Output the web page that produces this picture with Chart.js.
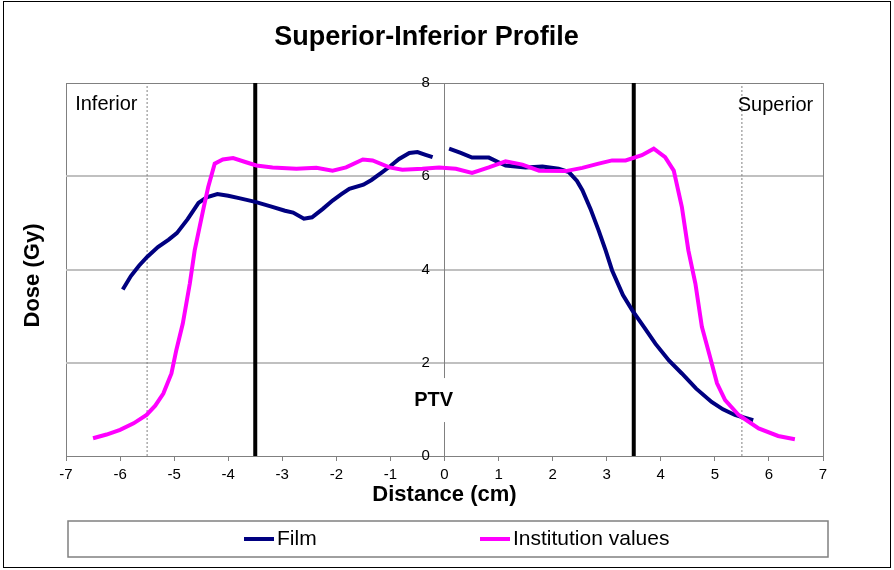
<!DOCTYPE html>
<html>
<head>
<meta charset="utf-8">
<title>Superior-Inferior Profile</title>
<script src="https://cdn.jsdelivr.net/npm/chart.js@4/dist/chart.umd.min.js"></script>
<style>
  html, body { margin: 0; padding: 0; background: #fff; }
  #wrap { width: 894px; height: 570px; }
</style>
</head>
<body>
<div id="wrap"><canvas id="profileChart" width="894" height="570"></canvas></div>
<script>
// Film measurement (two pieces, broken around x = 0)
const filmLeftX = [-5.95, -5.8, -5.65, -5.5, -5.3, -5.1, -4.95, -4.75, -4.55, -4.4, -4.2, -4.0, -3.8, -3.5, -3.2, -2.95, -2.8, -2.6, -2.45, -2.25, -2.07, -1.9, -1.76, -1.5, -1.35, -1.15, -1.0, -0.84, -0.65, -0.5, -0.35, -0.22];
const filmLeftY = [3.57, 3.86, 4.08, 4.27, 4.48, 4.64, 4.78, 5.08, 5.43, 5.55, 5.62, 5.58, 5.53, 5.45, 5.35, 5.26, 5.22, 5.09, 5.12, 5.30, 5.48, 5.62, 5.73, 5.82, 5.92, 6.09, 6.22, 6.37, 6.50, 6.52, 6.46, 6.41];
const filmRightX = [0.085, 0.3, 0.51, 0.82, 1.0, 1.13, 1.5, 1.81, 2.11, 2.3, 2.45, 2.55, 2.7, 2.85, 2.98, 3.1, 3.3, 3.47, 3.7, 3.9, 4.15, 4.39, 4.65, 4.94, 5.15, 5.37, 5.55, 5.71];
const filmRightY = [6.59, 6.50, 6.40, 6.40, 6.30, 6.23, 6.19, 6.21, 6.16, 6.09, 5.90, 5.70, 5.30, 4.84, 4.41, 3.98, 3.45, 3.13, 2.75, 2.41, 2.05, 1.77, 1.45, 1.16, 1.00, 0.88, 0.82, 0.77];

// Institution values
const instX = [-6.5, -6.25, -6.0, -5.75, -5.51, -5.35, -5.2, -5.05, -4.96, -4.84, -4.71, -4.62, -4.53, -4.45, -4.37, -4.25, -4.1, -3.91, -3.67, -3.48, -3.18, -2.74, -2.37, -2.07, -1.82, -1.51, -1.33, -1.02, -0.78, -0.41, -0.1, 0.21, 0.51, 0.82, 1.13, 1.44, 1.75, 2.24, 2.55, 2.85, 3.1, 3.35, 3.65, 3.87, 4.08, 4.24, 4.39, 4.51, 4.64, 4.76, 4.91, 5.04, 5.19, 5.44, 5.81, 6.17, 6.48];
const instY = [0.38, 0.46, 0.56, 0.70, 0.88, 1.08, 1.34, 1.77, 2.27, 2.84, 3.70, 4.41, 4.91, 5.35, 5.77, 6.27, 6.36, 6.39, 6.30, 6.23, 6.19, 6.16, 6.18, 6.12, 6.19, 6.36, 6.34, 6.19, 6.14, 6.16, 6.19, 6.16, 6.07, 6.19, 6.32, 6.25, 6.12, 6.11, 6.18, 6.27, 6.34, 6.34, 6.45, 6.59, 6.41, 6.12, 5.34, 4.41, 3.70, 2.77, 2.13, 1.56, 1.20, 0.88, 0.59, 0.43, 0.36];

// PTV edges, field edges and the centre line (vertical markers)
const ptvEdges = [-3.5, 3.5];
const fieldEdges = [-5.5, 5.5];
const centreLine = [0];
const doseRange = [0, 8];

const xTicks = { min: -7, max: 7, step: 1 };
const yTicks = { min: 0, max: 8, step: 2 };

const FONT = 'Liberation Sans, Arial, sans-serif';

function toPoints(xs, ys) {
    return xs.map((x, i) => ({ x: x, y: ys[i] }));
}

// the film data has a break between the two pieces
const filmData = toPoints(filmLeftX, filmLeftY)
    .concat([{ x: (filmLeftX[filmLeftX.length - 1] + filmRightX[0]) / 2, y: null }])
    .concat(toPoints(filmRightX, filmRightY));

function markerSet(xVal, color, width, dash) {
    return {
        label: '',
        data: doseRange.map(d => ({ x: xVal, y: d })),
        borderColor: color,
        borderWidth: width,
        borderDash: dash,
        pointRadius: 0,
        fill: false,
        order: 3,
        isMarker: true
    };
}

const datasets = [
    {
        label: 'Film',
        data: filmData,
        borderColor: '#000080',
        backgroundColor: '#000080',
        borderWidth: 4,
        pointRadius: 0,
        spanGaps: false,
        order: 1
    },
    {
        label: 'Institution values',
        data: toPoints(instX, instY),
        borderColor: '#ff00ff',
        backgroundColor: '#ff00ff',
        borderWidth: 4,
        pointRadius: 0,
        order: 0
    }
];
centreLine.forEach(v => datasets.push(markerSet(v, '#808080', 1, [])));
ptvEdges.forEach(v => datasets.push(markerSet(v, '#000000', 4, [])));
fieldEdges.forEach(v => datasets.push(markerSet(v, '#808080', 1, [2, 2])));

// frame, text labels and boxed legend
const decor = {
    id: 'decor',
    beforeDraw(chart) {
        const ctx = chart.ctx;
        ctx.save();
        ctx.fillStyle = '#fff';
        ctx.fillRect(0, 0, chart.width, chart.height);
        ctx.strokeStyle = '#000';
        ctx.lineWidth = 1;
        ctx.strokeRect(3.5, 1.5, 887, 566);
        ctx.restore();
    },
    afterLayout(chart) {
        chart.titleBlock.left -= 18;
        chart.titleBlock.right -= 18;
    },
    afterDatasetsDraw(chart) {
        const { ctx, scales: { x, y } } = chart;
        ctx.save();
        ctx.fillStyle = '#000';
        ctx.textBaseline = 'middle';
        ctx.font = '20px ' + FONT;
        ctx.textAlign = 'left';
        ctx.fillText('Inferior', x.getPixelForValue(-6.83), y.getPixelForValue(7.54));
        ctx.textAlign = 'right';
        ctx.fillText('Superior', x.getPixelForValue(6.82), y.getPixelForValue(7.52));

        // PTV sits on top of the centre line
        const px = x.getPixelForValue(-0.2);
        const py = y.getPixelForValue(1.2);
        ctx.fillStyle = '#fff';
        ctx.fillRect(px - 22, py - 22, 44, 44);
        ctx.fillStyle = '#000';
        ctx.font = 'bold 20px ' + FONT;
        ctx.textAlign = 'center';
        ctx.fillText('PTV', px, py);
        ctx.restore();
    },
    afterDraw(chart) {
        const { ctx, chartArea } = chart;
        const top = 521, bottom = 557;
        const mid = (top + bottom) / 2;
        ctx.save();
        ctx.strokeStyle = '#808080';
        ctx.lineWidth = 1.5;
        ctx.strokeRect(chartArea.left + 2, top, chartArea.right - chartArea.left + 3, bottom - top);
        const starts = [244, 480];
        ctx.font = '21px ' + FONT;
        ctx.textAlign = 'left';
        ctx.textBaseline = 'middle';
        chart.data.datasets.filter(d => !d.isMarker).forEach((d, i) => {
            ctx.strokeStyle = d.borderColor;
            ctx.lineWidth = 4;
            ctx.beginPath();
            ctx.moveTo(starts[i], mid);
            ctx.lineTo(starts[i] + 30, mid);
            ctx.stroke();
            ctx.fillStyle = '#000';
            ctx.fillText(d.label, starts[i] + 33, mid);
        });

        // y axis title at the left edge (the axis itself sits near x = 0)
        ctx.translate(33, (chartArea.top + chartArea.bottom) / 2 + 6);
        ctx.rotate(-Math.PI / 2);
        ctx.font = 'bold 22px ' + FONT;
        ctx.fillStyle = '#000';
        ctx.textAlign = 'center';
        ctx.fillText('Dose (Gy)', 0, 0);
        ctx.restore();
    }
};

const ctx = document.getElementById('profileChart').getContext('2d');
const profileChart = new Chart(ctx, {
    type: 'line',
    data: { datasets: datasets },
    plugins: [decor],
    options: {
        responsive: false,
        animation: false,
        layout: {
            padding: { left: 66, right: 71, top: 0, bottom: 62 }
        },
        plugins: {
            legend: { display: false },
            tooltip: { enabled: false },
            title: {
                display: true,
                text: 'Superior-Inferior Profile',
                color: '#000',
                font: { family: FONT, size: 27, weight: 'bold' },
                padding: { top: 21, bottom: 29.6 }
            }
        },
        elements: {
            line: { tension: 0 }
        },
        scales: {
            x: {
                type: 'linear',
                position: 'bottom',
                min: xTicks.min,
                max: xTicks.max,
                afterFit(scale) { scale.height = 52; },
                ticks: {
                    stepSize: xTicks.step,
                    color: '#000',
                    padding: 5,
                    font: { family: FONT, size: 15 }
                },
                grid: {
                    drawOnChartArea: true,
                    color: c => (c.tick && (c.tick.value === xTicks.min || c.tick.value === xTicks.max)) ? '#808080' : 'rgba(0,0,0,0)',
                    tickColor: '#808080',
                    tickLength: 5,
                    lineWidth: 1
                },
                border: { color: '#808080', width: 1 },
                title: {
                    display: true,
                    text: 'Distance (cm)',
                    color: '#000',
                    font: { family: FONT, size: 22, weight: 'bold' },
                    padding: { top: 0, bottom: 0 }
                }
            },
            y: {
                type: 'linear',
                // labels sit just left of the centre line
                position: { x: -0.27 },
                min: yTicks.min,
                max: yTicks.max,
                ticks: {
                    stepSize: yTicks.step,
                    color: '#000',
                    font: { family: FONT, size: 15 }
                },
                grid: {
                    drawTicks: false,
                    color: c => c.tick.value === yTicks.max ? '#808080' : (c.tick.value === yTicks.min ? 'rgba(0,0,0,0)' : '#c0c0c0'),
                    lineWidth: c => c.tick.value === yTicks.max ? 1 : 2
                },
                border: { display: false },
                title: { display: false }
            }
        }
    }
});
</script>
</body>
</html>
